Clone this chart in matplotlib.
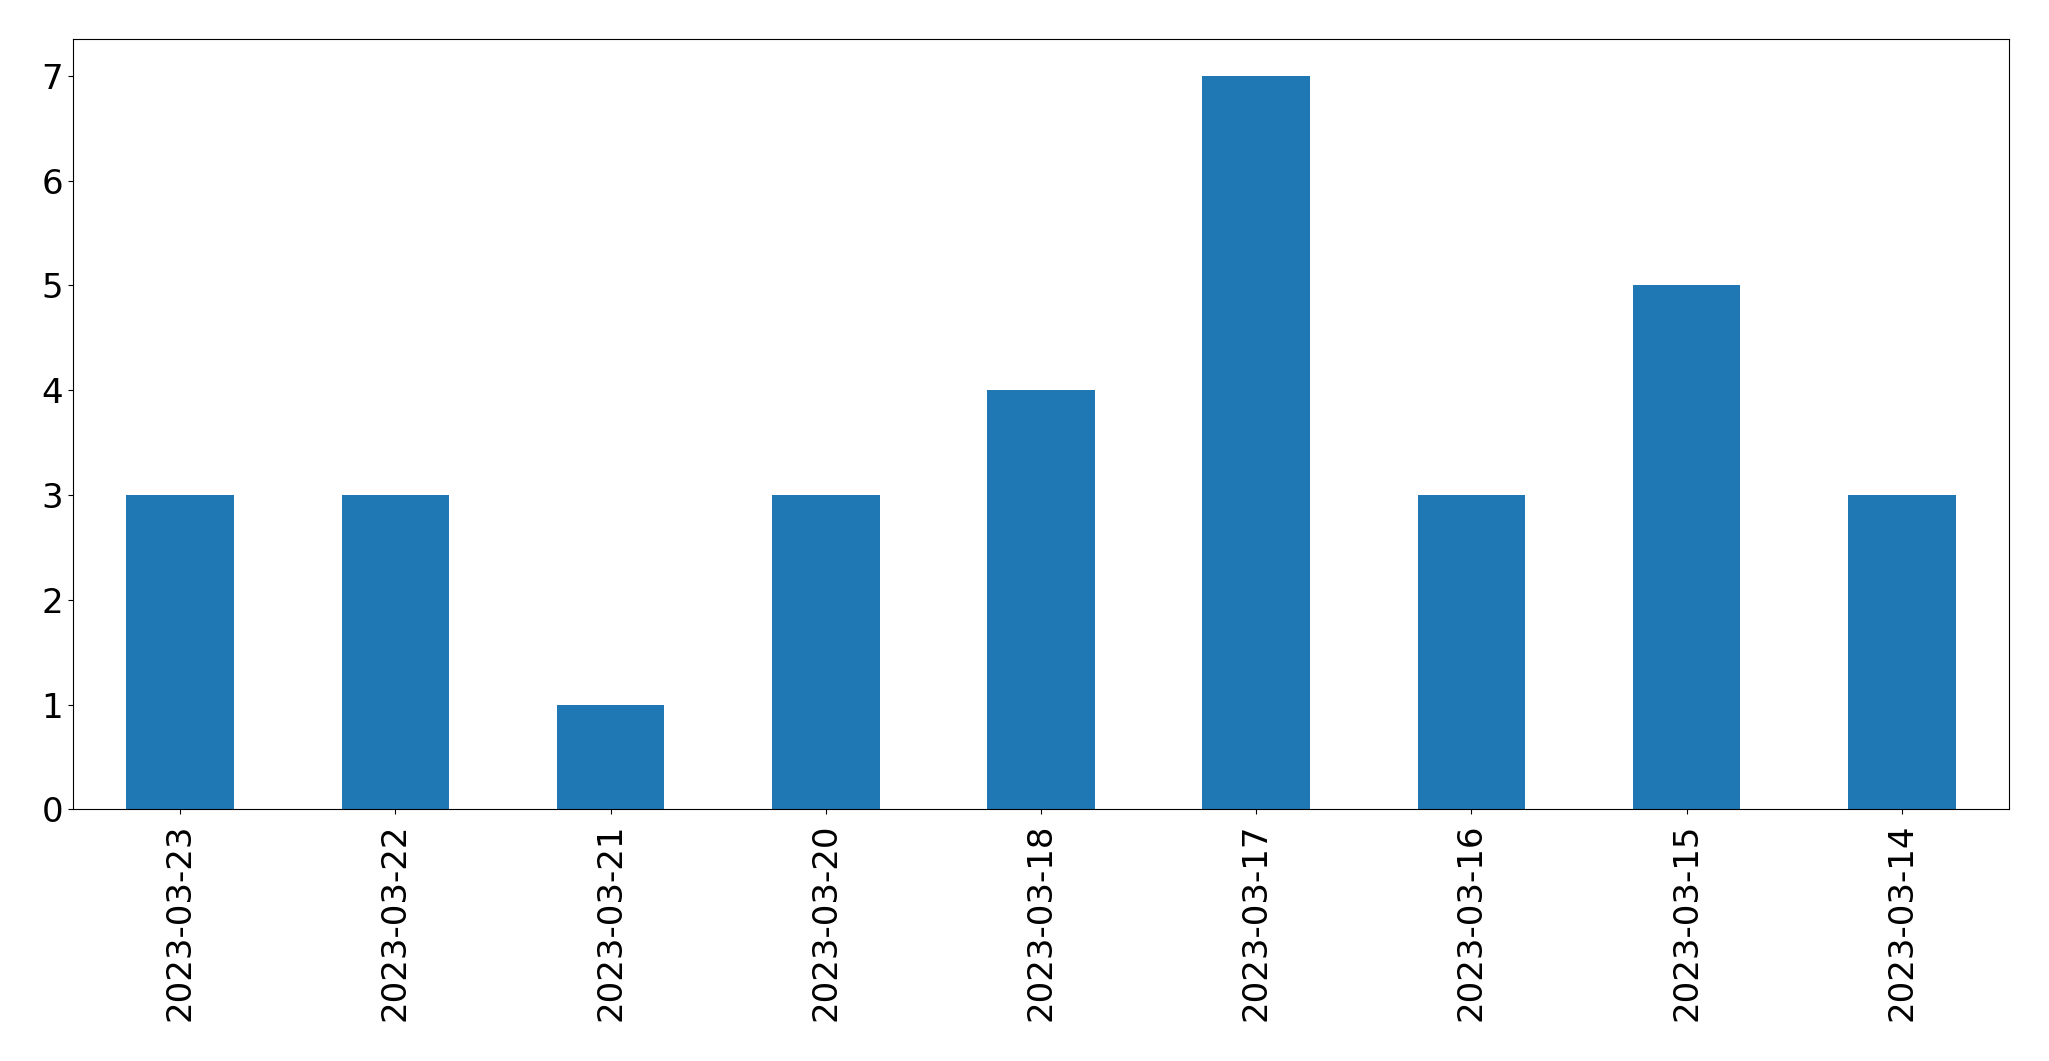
import matplotlib
matplotlib.use("Agg")
import matplotlib.pyplot as plt
import numpy as np

dates = ["2023-03-23", "2023-03-22", "2023-03-21", "2023-03-20", "2023-03-18",
         "2023-03-17", "2023-03-16", "2023-03-15", "2023-03-14"]
counts = [3, 3, 1, 3, 4, 7, 3, 5, 3]

W, H = 2049, 1061
fig = plt.figure(figsize=(W / 100, H / 100), dpi=100)
left, right, top, bottom = 72.7, 2009.3, 39.3, 809.3
ax = fig.add_axes([left / W, 1 - bottom / H, (right - left) / W, (bottom - top) / H])

x = np.arange(len(dates))
ax.bar(x, counts, width=0.5, color="#1f77b4")
ax.set_xlim(-0.5, len(dates) - 0.5)
ax.set_ylim(0, 7.35)
ax.set_xticks(x)
ax.set_xticklabels(dates, rotation=90)
ax.set_yticks(range(0, 8))
ax.tick_params(labelsize=24.5)
ax.tick_params(axis="x", pad=6.5)

fig.savefig("out.png", dpi=100)
